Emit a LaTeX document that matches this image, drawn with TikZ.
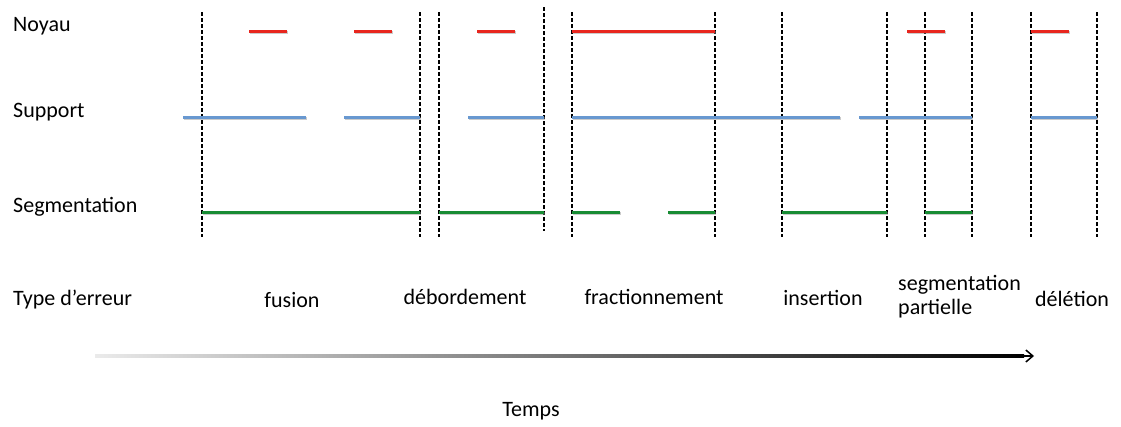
\documentclass[tikz,border=0pt]{standalone}
\usepackage{fontspec}
\setmainfont{Carlito}
\usetikzlibrary{arrows.meta}
\definecolor{noyau}{RGB}{232,38,30}
\definecolor{supp}{RGB}{104,152,208}
\definecolor{segm}{RGB}{24,140,52}
\tikzset{
  seg/.style={line width=3pt, preaction={draw=black!45, opacity=0.45, line width=3pt, transform canvas={xshift=0.8pt,yshift=-1.6pt}}},
  nseg/.style={seg, draw=noyau},
  sseg/.style={seg, draw=supp},
  gseg/.style={seg, draw=segm},
  vline/.style={draw=black, line width=1.1pt, dash pattern=on 4pt off 2pt},
  lab/.style={font=\fontsize{22}{24}\selectfont, inner sep=0pt},
}
\begin{document}
\begin{tikzpicture}[x=1pt,y=-1pt]
\useasboundingbox (0,0) rectangle (1121,426);
% vertical dashed lines
\foreach \x in {202,420,439,572,715,782,887,925,972,1031,1097}
  \draw[vline] (\x,12) -- (\x,237);
\draw[vline] (544,7) -- (544,231);
% Noyau
\draw[nseg] (249,31) -- (287,31);
\draw[nseg] (354,31) -- (392,31);
\draw[nseg] (477,31) -- (515,31);
\draw[nseg] (572,31) -- (715,31);
\draw[nseg] (907,31) -- (945,31);
\draw[nseg] (1031,31) -- (1069,31);
% Support
\draw[sseg] (183,117) -- (306,117);
\draw[sseg] (344,117) -- (420,117);
\draw[sseg] (468,117) -- (544,117);
\draw[sseg] (572,117) -- (840,117);
\draw[sseg] (859,117) -- (972,117);
\draw[sseg] (1031,117) -- (1097,117);
% Segmentation
\draw[gseg] (202,212) -- (420,212);
\draw[gseg] (439,212) -- (544,212);
\draw[gseg] (572,212) -- (620,212);
\draw[gseg] (668,212) -- (715,212);
\draw[gseg] (782,212) -- (887,212);
\draw[gseg] (925,212) -- (972,212);
% row labels
\node[lab, anchor=west] (noyau) at (13,26) {Noyau};
\node[lab, anchor=west] (support) at (13,112) {Support};
\node[lab, anchor=west] (segmentation) at (13,207) {Segmentation};
\node[lab, anchor=west] (type) at (13,300) {Type d’erreur};
% error labels
\node[lab] (fusion) at (292,300) {fusion};
\node[lab] (debord) at (465,297) {débordement};
\node[lab] (fract) at (654,297) {fractionnement};
\node[lab] (insert) at (823,298) {insertion};
\node[lab, anchor=west] (segpart1) at (898,285) {segmentation};
\node[lab, anchor=west] (segpart2) at (898,309) {partielle};
\node[lab] (deletion) at (1072,299) {délétion};
% time arrow
\coordinate (tstart) at (95,356);
\coordinate (tend) at (1034,356);
\shade[left color=black!8, right color=black] (95,354.5) rectangle (1024,357.5);
\draw[line width=1.5pt, -{Straight Barb[length=7pt,width=12pt]}] (1016,356) -- (tend);
\node[lab] (temps) at (531,411) {Temps};
\end{tikzpicture}
\end{document}
